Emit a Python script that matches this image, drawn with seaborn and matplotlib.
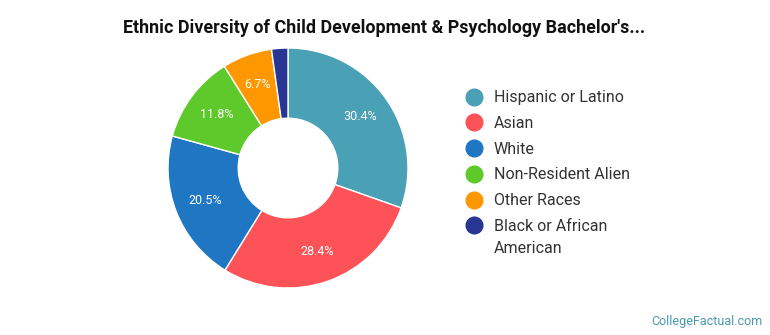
import matplotlib
matplotlib.use("Agg")
import matplotlib.pyplot as plt
from matplotlib.lines import Line2D
import seaborn as sns

# data
groups = ["Hispanic or Latino", "Asian", "White", "Non-Resident Alien",
          "Other Races", "Black or African"]
last_line = "American"
shares = [30.4, 28.4, 20.5, 11.8, 6.7, 2.2]
colors = ["#4aa0b5", "#fd5257", "#1f76c2", "#5ec92b", "#ff9800", "#283593"]

sns.set_theme(style="white")
plt.rcParams["font.family"] = ["Roboto", "DejaVu Sans"]

fig = plt.figure(figsize=(7.7, 3.35), dpi=100)
cx, cy, r = 288, 168, 120
ax = fig.add_axes([(cx - r) / 770, (335 - cy - r) / 335, 2 * r / 770, 2 * r / 335])

def pct(v):
    return "%.1f%%" % v if v >= 5 else ""

wedges, texts, autotexts = ax.pie(
    shares, colors=colors, startangle=90, counterclock=False,
    autopct=pct, pctdistance=0.74, radius=1,
    wedgeprops=dict(width=0.585, edgecolor="white", linewidth=1),
    textprops=dict(color="white", fontsize=9))
ax.set_xlim(-1, 1)
ax.set_ylim(-1, 1)
ax.set_aspect("equal")
ax.axis("off")

handles = [Line2D([0], [0], marker="o", linestyle="", markersize=12,
                  markerfacecolor=c, markeredgecolor=c) for c in colors]
leg = fig.legend(handles, groups, loc="upper left", bbox_to_anchor=(450 / 770, 1 - 76 / 335),
                 frameon=False, fontsize=11.5, labelspacing=0.67, handletextpad=0.65,
                 handlelength=1.2, labelcolor="#333333")

# second line of the last legend entry, under the first line
fig.canvas.draw()
bb = leg.get_texts()[-1].get_window_extent()
fig.text(bb.x0 / 770, (bb.y0 + bb.y1) / 2 / 335 - 22 / 335, last_line,
         ha="left", va="center", fontsize=11.5, color="#333333")

fig.text(384 / 770, 1 - 28 / 335, "Ethnic Diversity of Child Development & Psychology Bachelor's...",
         ha="center", va="center", fontsize=12.9, fontweight="bold", color="#111111")
fig.text(763 / 770, 1 - 321 / 335, "CollegeFactual.com", ha="right", va="center",
         fontsize=9, color="#4a98b0")

fig.savefig("out.png", dpi=100)
